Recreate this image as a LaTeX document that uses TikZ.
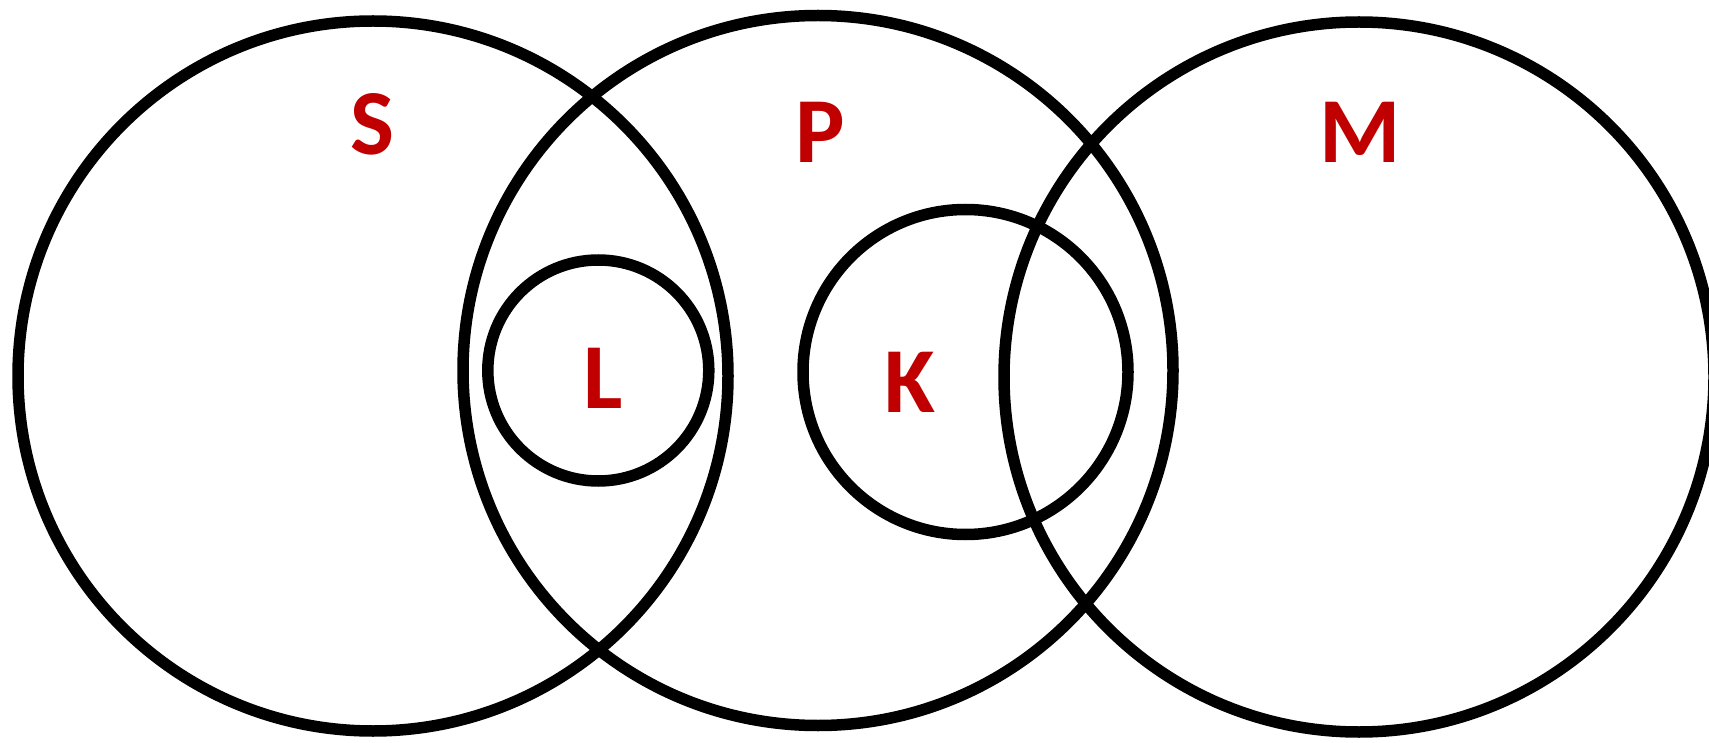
\documentclass[tikz,border=0pt]{standalone}
\usepackage{fontspec}
\setmainfont{Carlito}
\definecolor{labelred}{HTML}{C00000}
\begin{document}
\begin{tikzpicture}[x=1pt,y=-1pt,
  setcircle/.style={draw=black,line width=11.5pt,circle,inner sep=0pt},
  setlabel/.style={text=labelred,font=\fontsize{93}{93}\selectfont\bfseries,inner sep=0pt,anchor=center}]
\clip (0,0) rectangle (1709,743);
\useasboundingbox (0,0) rectangle (1709,743);
\node[setcircle,minimum size=710pt] (S) at (373,376) {};
\node[setcircle,minimum size=710pt] (P) at (818,370.5) {};
\node[setcircle,minimum size=710pt] (M) at (1359,377) {};
\node[setcircle,minimum size=221pt] (L) at (598.3,370.5) {};
\node[setcircle,minimum size=325pt] (K) at (965.5,372) {};
\node[setlabel] (tS) at (372,124) {S};
\node[setlabel] (tP) at (820,132) {P};
\node[setlabel] (tM) at (1360,132) {M};
\node[setlabel] (tL) at (603,378) {L};
\node[setlabel] (tK) at (910,382) {K};
\end{tikzpicture}
\end{document}
